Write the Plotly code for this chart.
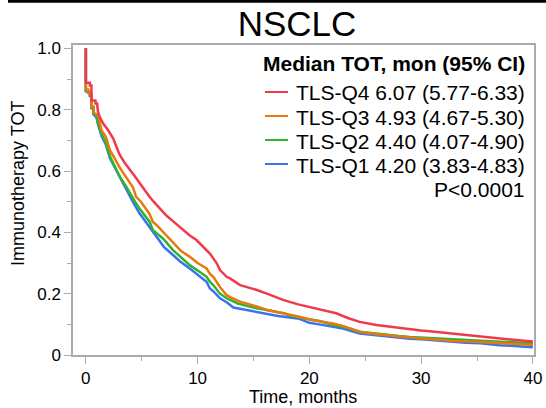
import plotly.graph_objects as go

# ---------------- data ----------------
q4_t = [0, 0, 0.36, 0.36, 0.5, 0.5, 0.86, 0.86, 1.0, 1.1, 1.25, 1.55, 2.0, 2.45, 3.0, 3.5, 4.2, 4.83, 5.7,
        6.07, 6.6, 7.2, 8.0, 8.7, 9.3, 9.9, 10.2, 10.8, 11.1, 11.7, 12.0, 12.6, 12.9, 13.8, 14.4, 15.3, 16.2,
        17.7, 19.0, 20.0, 21.0, 22.4, 23.5, 24.5, 26.0, 27.0, 28.0, 29.0, 30.0, 31.0, 32.0, 33.0, 34.0, 35.0,
        36.0, 37.0, 38.0, 39.0, 40.0]
q4_s = [1.0, 0.888, 0.888, 0.879, 0.879, 0.83, 0.83, 0.82, 0.82, 0.79, 0.776, 0.755, 0.733, 0.706, 0.655, 0.625,
        0.592, 0.559, 0.516, 0.5, 0.478, 0.455, 0.43, 0.407, 0.39, 0.375, 0.364, 0.345, 0.331, 0.3, 0.277, 0.255,
        0.25, 0.228, 0.222, 0.212, 0.2, 0.179, 0.165, 0.156, 0.147, 0.136, 0.12, 0.108, 0.098, 0.093, 0.088,
        0.084, 0.08, 0.077, 0.073, 0.07, 0.066, 0.062, 0.058, 0.054, 0.05, 0.047, 0.044]

q3_t = [0, 0, 0.2, 0.2, 0.36, 0.36, 0.5, 0.5, 0.7, 0.7, 1.1, 1.25, 1.4, 1.8, 2.15, 2.6, 3.0, 3.6, 4.2, 4.5,
        4.93, 5.7, 6.0, 6.3, 7.2, 7.8, 8.5, 9.3, 10.0, 10.8, 11.1, 11.4, 12.0, 12.6, 13.0, 13.8, 14.4, 15.3,
        16.2, 17.2, 19.1, 20.0, 21.0, 22.1, 23.0, 24.5, 26.0, 27.0, 28.0, 29.0, 30.0, 31.0, 32.0, 33.0, 34.0,
        35.0, 36.0, 37.0, 38.0, 39.0, 40.0]
q3_s = [1.0, 0.866, 0.866, 0.857, 0.857, 0.85, 0.85, 0.809, 0.809, 0.79, 0.782, 0.76, 0.733, 0.711, 0.668, 0.64,
        0.613, 0.58, 0.548, 0.516, 0.5, 0.46, 0.434, 0.425, 0.39, 0.364, 0.34, 0.32, 0.3, 0.282, 0.265, 0.255,
        0.222, 0.195, 0.187, 0.174, 0.168, 0.158, 0.147, 0.14, 0.125, 0.116, 0.11, 0.103, 0.095, 0.076, 0.068,
        0.064, 0.06, 0.057, 0.054, 0.051, 0.048, 0.046, 0.045, 0.043, 0.041, 0.039, 0.037, 0.035, 0.033]

q2_t = [0, 0, 0.2, 0.2, 0.36, 0.36, 0.5, 0.5, 0.66, 0.66, 0.95, 1.1, 1.4, 1.8, 2.15, 2.6, 3.04, 3.6, 4.2,
        4.4, 4.8, 5.7, 6.0, 6.9, 7.8, 8.5, 9.3, 10.2, 10.8, 11.1, 11.4, 12.0, 12.6, 13.6, 14.7, 15.3, 16.2,
        17.7, 18.3, 20.0, 21.0, 22.1, 23.0, 24.5, 26.0, 27.0, 28.0, 29.0, 30.0, 31.0, 32.0, 33.0, 34.0, 35.0,
        36.0, 37.0, 38.0, 39.0, 40.0]
q2_s = [1.0, 0.863, 0.863, 0.857, 0.857, 0.847, 0.847, 0.81, 0.81, 0.79, 0.78, 0.755, 0.722, 0.69, 0.648, 0.615,
        0.581, 0.55, 0.51, 0.5, 0.478, 0.435, 0.407, 0.38, 0.342, 0.318, 0.293, 0.271, 0.255, 0.239, 0.228, 0.2,
        0.185, 0.168, 0.157, 0.152, 0.147, 0.136, 0.128, 0.118, 0.11, 0.098, 0.092, 0.076, 0.069, 0.065, 0.062,
        0.059, 0.057, 0.055, 0.053, 0.051, 0.049, 0.047, 0.045, 0.043, 0.041, 0.04, 0.038]

q1_t = [0, 0, 0.2, 0.2, 0.36, 0.36, 0.5, 0.5, 0.66, 0.66, 0.95, 1.1, 1.4, 1.8, 2.15, 2.6, 3.0, 3.6, 4.2,
        4.8, 5.7, 6.3, 7.0, 7.8, 8.5, 9.3, 10.2, 10.8, 11.1, 11.4, 12.0, 12.6, 13.2, 14.4, 15.3, 16.2, 17.2,
        19.1, 20.0, 21.0, 22.1, 23.0, 24.5, 26.0, 27.0, 28.0, 29.0, 30.0, 31.0, 32.0, 33.0, 34.0, 35.3, 36.0,
        37.0, 38.0, 39.0, 40.0]
q1_s = [1.0, 0.86, 0.86, 0.855, 0.855, 0.845, 0.845, 0.805, 0.805, 0.785, 0.775, 0.75, 0.715, 0.685, 0.642, 0.61,
        0.58, 0.54, 0.5, 0.462, 0.418, 0.385, 0.352, 0.326, 0.303, 0.282, 0.255, 0.239, 0.217, 0.208, 0.185,
        0.172, 0.155, 0.147, 0.14, 0.134, 0.127, 0.118, 0.105, 0.099, 0.092, 0.086, 0.07, 0.064, 0.06, 0.056,
        0.053, 0.051, 0.048, 0.045, 0.043, 0.04, 0.038, 0.035, 0.032, 0.03, 0.028, 0.025]

series_names = ["TLS-Q1 4.20 (3.83-4.83)", "TLS-Q2 4.40 (4.07-4.90)",
                "TLS-Q3 4.93 (4.67-5.30)", "TLS-Q4 6.07 (5.77-6.33)"]
series_colors = ["#3B72F2", "#2DB52D", "#E8790F", "#EF3A4C"]
series_t = [q1_t, q2_t, q3_t, q4_t]
series_s = [q1_s, q2_s, q3_s, q4_s]

y_tickvals = [0, 0.2, 0.4, 0.6, 0.8, 1.0]
y_ticktext = ["0", "0.2", "0.4", "0.6", "0.8", "1.0"]
x_tickvals = [0, 10, 20, 30, 40]
x_ticktext = ["0", "10", "20", "30", "40"]

title_text = "NSCLC"
legend_title = "Median TOT, mon (95% CI)"
p_text = "P<0.0001"
x_title = "Time, months"
y_title = "Immunotherapy TOT"

FONT = "Liberation Sans, Arial, Helvetica, sans-serif"
AXIS_GREY = "#ABABAB"

fig = go.Figure()
for name, col, t, s in zip(series_names, series_colors, series_t, series_s):
    fig.add_trace(go.Scatter(x=t, y=s, mode="lines", name=name, showlegend=False,
                             line=dict(color=col, width=2.5), hoverinfo="skip"))

axis_common = dict(showline=True, mirror=True, linecolor=AXIS_GREY, linewidth=1.5,
                   ticks="outside", tickcolor=AXIS_GREY, tickwidth=1.2, ticklen=7,
                   showgrid=False, zeroline=False, automargin=False,
                   tickfont=dict(family=FONT, size=17, color="black"))

fig.update_xaxes(range=[-1.15, 40.1], tickvals=x_tickvals, ticktext=x_ticktext,
                 minor=dict(dtick=5, tick0=0, ticks="outside", ticklen=4, tickcolor=AXIS_GREY, tickwidth=1.2),
                 **axis_common)
fig.update_yaxes(range=[0, 1.011], tickvals=y_tickvals, ticktext=y_ticktext,
                 minor=dict(dtick=0.1, tick0=0, ticks="outside", ticklen=4, tickcolor=AXIS_GREY, tickwidth=1.2),
                 **axis_common)

fig.update_layout(
    width=546, height=408,
    margin=dict(l=73, r=12, t=45, b=53),
    paper_bgcolor="white", plot_bgcolor="white",
    font=dict(family=FONT, color="black"),
    title=dict(text=title_text, x=297 / 546, xanchor="center", y=1 - 24 / 408, yanchor="middle",
               font=dict(family=FONT, size=35, color="black")),
    showlegend=False,
)

# ---- legend drawn as text + line samples (top-right, inside the plot) ----
def py(p):  # pixel row -> paper y
    return (355 - p) / 310

def px(p):  # pixel column -> paper x
    return (p - 73) / 461

LEG_FONT = 21
fig.add_annotation(x=px(527), y=py(63), xref="paper", yref="paper", text="<b>" + legend_title + "</b>",
                   showarrow=False, xanchor="right", yanchor="middle",
                   font=dict(family=FONT, size=LEG_FONT, color="black"))
rows = [93, 117, 141, 165]
for row, name, col in zip(rows, series_names[::-1], series_colors[::-1]):
    fig.add_annotation(x=px(527), y=py(row), xref="paper", yref="paper", text=name,
                       showarrow=False, xanchor="right", yanchor="middle",
                       font=dict(family=FONT, size=LEG_FONT, color="black"))
    fig.add_shape(type="line", xref="paper", yref="paper", x0=px(265), x1=px(288),
                  y0=py(row - 1), y1=py(row - 1), line=dict(color=col, width=2))
fig.add_annotation(x=px(527), y=py(189), xref="paper", yref="paper", text=p_text, showarrow=False,
                   xanchor="right", yanchor="middle", font=dict(family=FONT, size=LEG_FONT, color="black"))

# ---- axis titles ----
fig.add_annotation(x=px(18), y=py(184), xref="paper", yref="paper", text=y_title, showarrow=False,
                   textangle=-90, xanchor="center", yanchor="middle",
                   font=dict(family=FONT, size=18, color="black"))
fig.add_annotation(x=px(303), y=py(397), xref="paper", yref="paper", text=x_title, showarrow=False,
                   xanchor="center", yanchor="middle",
                   font=dict(family=FONT, size=18, color="black"))

# top rule
fig.add_shape(type="line", xref="paper", yref="paper", x0=px(8), x1=px(546), y0=py(1.2), y1=py(1.2),
              line=dict(color="black", width=3))

fig.write_html("out.html")
